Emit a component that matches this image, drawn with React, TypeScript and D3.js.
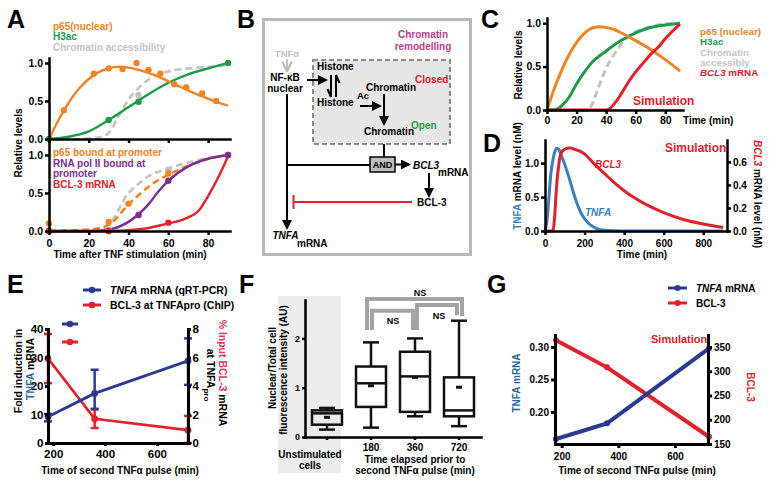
import React, { useRef, useEffect } from 'react';
import * as d3 from 'd3';

const FONT = '"Liberation Sans", Arial, sans-serif';
const C_OR = '#f08424';
const C_GR = '#1e9a4a';
const C_GY = '#c4c4c4';
const C_RD = '#e3202c';
const C_PU = '#7d2f8e';
const C_BL = '#3a7fc1';
const C_NV = '#2c3a92';
const C_TX = '#2b64a0';
const C_PK = '#e23468';

// ---------- Panel A (top): experimental points and fits ----------
const aP65Pts = [[7.5, 0.38], [22.5, 0.86], [30, 0.93], [37, 0.92], [44, 1.0], [50, 0.91], [56, 0.86], [63, 0.72], [69, 0.68], [77, 0.6], [84, 0.5]];
const aP65Fit = [[0, 0], [5, 0.26], [10, 0.48], [15, 0.66], [20, 0.79], [25, 0.88], [30, 0.93], [35, 0.95], [40, 0.94], [45, 0.91], [50, 0.87], [55, 0.82], [60, 0.76], [65, 0.7], [70, 0.64], [75, 0.58], [80, 0.53], [85, 0.48], [90, 0.44]];
const aH3Pts = [[0, 0], [30, 0.25], [45, 0.49], [90, 1.0]];
const aH3Fit = [[0, 0], [10, 0.03], [20, 0.1], [30, 0.25], [40, 0.42], [50, 0.59], [60, 0.74], [70, 0.85], [80, 0.93], [90, 1.0]];
const aChrPts = [[45, 0.58]];
const aChrFit = [[12, 0], [25, 0.02], [30, 0.08], [35, 0.3], [40, 0.52], [45, 0.67], [50, 0.78], [55, 0.85], [60, 0.89], [70, 0.93], [80, 0.95], [90, 0.97]];

// ---------- Panel A (bottom) ----------
const bP65Pts = [[0, 0.1], [30, 0.12], [40, 0.36], [60, 0.76], [90, 1.0]];
const bP65Fit = [[0, 0], [20, 0.02], [30, 0.08], [40, 0.35], [45, 0.47], [50, 0.58], [60, 0.74], [70, 0.86], [80, 0.95], [90, 1.0]];
const bChrPts = [[30, 0.02], [60, 0.81], [90, 1.0]];
const bChrFit = [[0, 0], [25, 0.02], [30, 0.08], [40, 0.5], [45, 0.62], [50, 0.72], [60, 0.82], [70, 0.9], [80, 0.96], [90, 1.0]];
const bPolPts = [[0, 0], [30, 0], [45, 0.21], [60, 0.66], [90, 1.0]];
const bPolFit = [[0, 0], [20, 0], [30, 0.02], [40, 0.12], [45, 0.22], [50, 0.35], [55, 0.52], [60, 0.66], [70, 0.85], [80, 0.95], [90, 1.0]];
const bBclPts = [[0, 0], [30, 0], [60, 0.11]];
const bBclFit = [[0, 0], [30, 0], [40, 0.01], [50, 0.04], [60, 0.1], [65, 0.13], [70, 0.18], [75, 0.26], [80, 0.46], [85, 0.7], [90, 0.98]];

// ---------- Panel C (simulation) ----------
const cP65 = [[0, 0], [5, 0.25], [10, 0.46], [15, 0.64], [20, 0.78], [25, 0.88], [30, 0.94], [35, 0.96], [40, 0.95], [45, 0.93], [50, 0.89], [60, 0.8], [70, 0.7], [80, 0.58], [90, 0.45]];
const cH3 = [[0, 0], [5, 0.0], [10, 0.05], [15, 0.15], [20, 0.3], [25, 0.43], [30, 0.54], [40, 0.68], [50, 0.8], [60, 0.89], [70, 0.95], [80, 0.98], [90, 1.0]];
const cChr = [[0, 0], [27, 0], [30, 0.05], [35, 0.27], [40, 0.48], [45, 0.63], [50, 0.75], [55, 0.84], [60, 0.9], [70, 0.96], [80, 0.99], [90, 1.0]];
const cBcl = [[0, 0], [40, 0], [42, 0.01], [45, 0.06], [50, 0.18], [55, 0.32], [60, 0.44], [65, 0.54], [70, 0.64], [75, 0.72], [80, 0.82], [85, 0.91], [90, 0.99]];

// ---------- Panel D (simulation) ----------
const dTnfa = [[0, 0], [10, 0.15], [20, 0.5], [30, 0.85], [40, 1.05], [50, 1.17], [60, 1.22], [70, 1.2], [80, 1.13], [100, 0.98], [120, 0.8], [140, 0.6], [160, 0.42], [180, 0.28], [200, 0.18], [250, 0.05], [300, 0.01], [400, 0], [900, 0]];
const dBcl3 = [[0, 0], [40, 0], [45, 0.05], [50, 0.15], [55, 0.3], [60, 0.42], [70, 0.58], [80, 0.67], [100, 0.71], [125, 0.72], [150, 0.71], [200, 0.67], [250, 0.58], [300, 0.5], [350, 0.42], [400, 0.35], [450, 0.29], [500, 0.24], [600, 0.16], [700, 0.1], [800, 0.06], [900, 0.03]];

// ---------- Panel E ----------
const eTimes = [180, 360, 720];
const eTnfa = [9.2, 17.4, 28.8];
const eTnfaLo = [7.6, 12.0, 20.4];
const eTnfaHi = [10.2, 25.7, 36.7];
const eBcl = [5.93, 1.7, 0.9];
const eBclLo = [4.2, 1.05, 0];
const eBclHi = [7.65, 2.35, 1.9];

// ---------- Panel F (box plots) ----------
const fCats = ['Unstim', '180', '360', '720'];
const fMin = [0.15, 0.19, 0.42, 0.22];
const fQ1 = [0.25, 0.61, 0.51, 0.42];
const fMed = [0.48, 1.09, 1.23, 0.54];
const fQ3 = [0.54, 1.43, 1.73, 1.21];
const fMax = [0.59, 1.92, 2.0, 2.36];
const fMean = [0.4, 1.04, 1.21, 1.01];

// ---------- Panel G ----------
const gTimes = [180, 360, 720];
const gTnfa = [0.1585, 0.1826, 0.298];
const gBcl = [364, 308, 165];

function Axis({ scale, orient, ticks, fmt, x = 0, y = 0, size = 4, pad = 2, fs = 10.5, sw = 2.5 }: any) {
  const ref = useRef<SVGGElement>(null);
  useEffect(() => {
    const mk = orient === 'left' ? d3.axisLeft : orient === 'right' ? d3.axisRight : orient === 'bottom' ? d3.axisBottom : d3.axisTop;
    const ax: any = (mk as any)(scale).tickValues(ticks).tickSizeInner(size).tickSizeOuter(0).tickPadding(pad);
    if (fmt) ax.tickFormat(fmt);
    const g = d3.select(ref.current as SVGGElement);
    g.call(ax);
    g.attr('font-family', FONT).attr('font-size', fs).attr('font-weight', 'bold');
    g.select('.domain').attr('stroke', '#000').attr('stroke-width', sw).attr('stroke-linecap', 'square');
    g.selectAll('.tick line').attr('stroke', '#000').attr('stroke-width', sw);
    g.selectAll('.tick text').attr('fill', '#000');
  });
  return <g ref={ref} transform={`translate(${x},${y})`} />;
}

const T = (p: any) => <text fontFamily={FONT} fontWeight="bold" fontSize={10} {...p} />;

function mkLine(xs: any, ys: any) {
  return d3.line<number[]>().x(d => xs(d[0])).y(d => ys(d[1])).curve(d3.curveMonotoneX);
}
function mkStraight(xs: any, ys: any) {
  return d3.line<number[]>().x(d => xs(d[0])).y(d => ys(d[1]));
}

export default function App() {
  // ---- A scales
  const xA = d3.scaleLinear().domain([0, 91]).range([49, 230]);
  const yAt = d3.scaleLinear().domain([0, 1.066]).range([139, 58]);
  const yAb = d3.scaleLinear().domain([0, 1.21]).range([231, 139]);
  const lAt = mkLine(xA, yAt);
  const lAb = mkLine(xA, yAb);
  // ---- C
  const xC = d3.scaleLinear().domain([0, 92]).range([547, 683]);
  const yC = d3.scaleLinear().domain([0, 1.06]).range([110, 18]);
  const lC = mkLine(xC, yC);
  // ---- D
  const xD = d3.scaleLinear().domain([0, 920]).range([545, 727]);
  const yDL = d3.scaleLinear().domain([0, 1.34]).range([231, 140]);
  const yDR = d3.scaleLinear().domain([0, 0.79]).range([231, 140]);
  // ---- E
  const xE = d3.scaleLinear().domain([180, 720]).range([48, 188]);
  const yEL = d3.scaleLinear().domain([0, 40]).range([443, 329]);
  const yER = d3.scaleLinear().domain([0, 8]).range([443, 329]);
  // ---- F
  const xF = d3.scaleBand().domain(fCats).range([305, 481]);
  const yF = d3.scaleLinear().domain([0, 2.78]).range([437, 300]);
  const fc = (c: string) => (xF(c) as number) + xF.bandwidth() / 2;
  // ---- G
  const xG = d3.scaleLinear().domain([180, 720]).range([556, 709]);
  const yGL = d3.scaleLinear().domain([0.1508, 0.3185]).range([444, 335]);
  const yGR = d3.scaleLinear().domain([150, 374.7]).range([444, 335]);

  const f1 = d3.format('.1f');
  const f2 = d3.format('.2f');

  const eTn = eTimes.map((t, i) => [t, eTnfa[i]]);
  const eBc = eTimes.map((t, i) => [t, eBcl[i]]);
  const gTn = gTimes.map((t, i) => [t, gTnfa[i]]);
  const gBc = gTimes.map((t, i) => [t, gBcl[i]]);

  const dots = (pts: number[][], xs: any, ys: any, col: string, r = 3.2) =>
    pts.map((p, i) => <circle key={i} cx={xs(p[0])} cy={ys(p[1])} r={r} fill={col} />);

  return (
    <svg width={769} height={483} style={{ position: 'absolute', left: 0, top: 0, background: '#fff' }} fontFamily={FONT}>
      <defs>
        <marker id="ah" viewBox="0 0 10 10" refX="8" refY="5" markerWidth="5" markerHeight="5" orient="auto" markerUnits="strokeWidth">
          <path d="M0,0L10,5L0,10z" fill="#000" />
        </marker>
        <marker id="ahg" viewBox="0 0 10 10" refX="8" refY="5" markerWidth="6" markerHeight="6" orient="auto" markerUnits="strokeWidth">
          <path d="M1,1L9,5L1,9" fill="none" stroke="#c0c0c0" strokeWidth="2" />
        </marker>
      </defs>
      <rect x={0} y={0} width={769} height={483} fill="#fff" />

      {/* ================= Panel A ================= */}
      <T x={7} y={28} fontSize={25}>A</T>
      <T x={53} y={29.5} fill={C_OR}>p65(nuclear)</T>
      <T x={53} y={39.5} fill={C_GR}>H3ac</T>
      <T x={53} y={51} fill={C_GY}>Chromatin accessibility</T>
      <path d={lAt(aChrFit) as string} fill="none" stroke={C_GY} strokeWidth={2.6} strokeDasharray="7,4" />
      <path d={lAt(aH3Fit) as string} fill="none" stroke={C_GR} strokeWidth={2.4} />
      <path d={lAt(aP65Fit) as string} fill="none" stroke={C_OR} strokeWidth={2.4} />
      {dots(aChrPts, xA, yAt, C_GY)}
      {dots(aH3Pts, xA, yAt, C_GR)}
      {dots(aP65Pts, xA, yAt, C_OR)}
      <Axis scale={yAt} orient="left" ticks={[0, 0.5, 1]} fmt={f1} x={49} />
      <Axis scale={xA} orient="bottom" ticks={[0, 20, 40, 60, 80]} fmt={() => ''} y={139} size={4} />

      <T x={53} y={155.5} fill={C_OR}>p65 bound at promoter</T>
      <T x={53} y={166.5} fill={C_PU}>RNA pol II bound at</T>
      <T x={53} y={177} fill={C_PU}>promoter</T>
      <T x={53} y={187.5} fill={C_RD}>BCL-3 mRNA</T>
      <path d={lAb(bChrFit) as string} fill="none" stroke={C_GY} strokeWidth={2.6} strokeDasharray="7,4" />
      <path d={lAb(bP65Fit) as string} fill="none" stroke={C_OR} strokeWidth={2.6} strokeDasharray="7,4" />
      <path d={lAb(bPolFit) as string} fill="none" stroke={C_PU} strokeWidth={2.4} />
      <path d={lAb(bBclFit) as string} fill="none" stroke={C_RD} strokeWidth={2.4} />
      {dots(bChrPts, xA, yAb, C_GY)}
      {dots(bP65Pts, xA, yAb, C_OR)}
      {dots(bPolPts, xA, yAb, C_PU)}
      {dots(bBclPts, xA, yAb, C_RD)}
      <Axis scale={yAb} orient="left" ticks={[0, 0.5, 1]} fmt={f1} x={49} />
      <Axis scale={xA} orient="bottom" ticks={[0, 20, 40, 60, 80]} fmt={d3.format('d')} y={231} pad={4.5} />
      <T x={130} y={258} textAnchor="middle">Time after TNF stimulation (min)</T>
      <T transform="translate(22,143) rotate(-90)" textAnchor="middle">Relative levels</T>

      {/* ================= Panel B ================= */}
      <T x={237} y={28} fontSize={25}>B</T>
      <rect x={263.5} y={19.5} width={207} height={235} fill="none" stroke="#b8b8b8" strokeWidth={3} />
      <T x={423} y={38} textAnchor="middle" fill="#b5418f">Chromatin</T>
      <T x={423} y={49.5} textAnchor="middle" fill="#b5418f">remodelling</T>
      <rect x={313} y={60} width={137} height={84} fill="#e6e6e6" stroke="#8a8a8a" strokeWidth={2} strokeDasharray="5,3" />
      <T x={287} y={57} textAnchor="middle" fill="#c0c0c0" fontSize={9.5}>TNFα</T>
      <line x1={287} y1={59} x2={287} y2={70} stroke="#c0c0c0" strokeWidth={2} markerEnd="url(#ahg)" />
      <T x={285} y={81} textAnchor="middle">NF-κB</T>
      <T x={285} y={92} textAnchor="middle">nuclear</T>
      <line x1={307} y1={80} x2={326} y2={80} stroke="#000" strokeWidth={2} markerEnd="url(#ah)" />
      <T x={317} y={69.5}>Histone</T>
      <T x={317} y={105.5}>Histone</T>
      <T x={357} y={99} fontSize={9.5}>Ac</T>
      <line x1={331} y1={75} x2={331} y2={97} stroke="#000" strokeWidth={2} />
      <line x1={331} y1={97} x2={327.5} y2={89} stroke="#000" strokeWidth={2} />
      <line x1={336} y1={75} x2={336} y2={97} stroke="#000" strokeWidth={2} />
      <line x1={336} y1={75} x2={339.5} y2={83} stroke="#000" strokeWidth={2} />
      <T x={391} y={91} textAnchor="middle">Chromatin</T>
      <T x={415} y={83} fill={C_RD}>Closed</T>
      <line x1={360} y1={106} x2={380} y2={106} stroke="#000" strokeWidth={2} markerEnd="url(#ah)" />
      <line x1={384} y1={94} x2={384} y2={124} stroke="#000" strokeWidth={2} markerEnd="url(#ah)" />
      <T x={389} y={134.5} textAnchor="middle">Chromatin</T>
      <T x={411} y={128.5} fill={C_GR}>Open</T>
      <line x1={384} y1={144} x2={384} y2={157} stroke="#000" strokeWidth={2} />
      <line x1={287} y1={94} x2={287} y2={228} stroke="#000" strokeWidth={2} markerEnd="url(#ah)" />
      <line x1={287} y1={165} x2={370} y2={165} stroke="#000" strokeWidth={2} />
      <rect x={370} y={157} width={25} height={15} fill="#bdbdbd" stroke="#000" strokeWidth={1.5} />
      <T x={382.5} y={168} textAnchor="middle" fontSize={9}>AND</T>
      <line x1={395} y1={164.5} x2={409} y2={164.5} stroke="#000" strokeWidth={2} markerEnd="url(#ah)" />
      <T x={413} y={169} fontStyle="italic">BCL3</T>
      <T x={438} y={176}>mRNA</T>
      <line x1={429} y1={173} x2={429} y2={196} stroke="#000" strokeWidth={2} markerEnd="url(#ah)" />
      <T x={417} y={206}>BCL-3</T>
      <line x1={412} y1={202} x2={293.5} y2={202} stroke={C_RD} strokeWidth={2} />
      <line x1={293.5} y1={195} x2={293.5} y2={209} stroke={C_RD} strokeWidth={2} />
      <T x={285.5} y={239} textAnchor="middle" fontStyle="italic">TNFA</T>
      <T x={297} y={247}>mRNA</T>

      {/* ================= Panel C ================= */}
      <T x={481} y={28} fontSize={25}>C</T>
      <path d={lC(cChr) as string} fill="none" stroke={C_GY} strokeWidth={3} strokeDasharray="7,4" />
      <path d={lC(cH3) as string} fill="none" stroke={C_GR} strokeWidth={3} />
      <path d={lC(cP65) as string} fill="none" stroke={C_OR} strokeWidth={3} />
      <path d={lC(cBcl) as string} fill="none" stroke={C_RD} strokeWidth={3} />
      <Axis scale={yC} orient="left" ticks={[0, 0.5, 1]} fmt={f1} x={547} />
      <Axis scale={xC} orient="bottom" ticks={[0, 20, 40, 60, 80]} fmt={d3.format('d')} y={110} pad={2.5} />
      <T x={683} y={124}>Time (min)</T>
      <T transform="translate(521.5,65) rotate(-90)" textAnchor="middle">Relative levels</T>
      <T x={700} y={35} fill={C_OR} fontSize={9.8}>p65 (nuclear)</T>
      <T x={700} y={45.3} fill={C_GR} fontSize={9.8}>H3ac</T>
      <T x={700} y={55.6} fill={C_GY} fontSize={9.8}>Chromatin</T>
      <T x={700} y={65.9} fill={C_GY} fontSize={9.8}>accessibly</T>
      <T x={700} y={76.2} fill={C_RD} fontSize={9.8}><tspan fontStyle="italic">BCL3</tspan> mRNA</T>
      <T x={633} y={105} fill={C_RD} fontSize={12}>Simulation</T>

      {/* ================= Panel D ================= */}
      <T x={483} y={152} fontSize={25}>D</T>
      <path d={mkLine(xD, yDL)(dTnfa) as string} fill="none" stroke={C_BL} strokeWidth={3} />
      <path d={mkLine(xD, yDR)(dBcl3) as string} fill="none" stroke={C_RD} strokeWidth={3} />
      <Axis scale={yDL} orient="left" ticks={[0, 0.5, 1]} fmt={f1} x={545} fs={10} />
      <Axis scale={yDR} orient="right" ticks={[0, 0.2, 0.4, 0.6]} fmt={f1} x={727} fs={10} />
      <Axis scale={xD} orient="bottom" ticks={[0, 200, 400, 600, 800]} fmt={d3.format('d')} y={231} pad={4.5} fs={10} />
      <T x={642} y={258} textAnchor="middle">Time (min)</T>
      <T x={665} y={152} fill={C_RD} fontSize={12}>Simulation</T>
      <T x={595} y={168} fill={C_RD} fontStyle="italic">BCL3</T>
      <T x={585} y={216} fill={C_BL} fontStyle="italic">TNFA</T>
      <T transform="translate(520.5,176) rotate(-90)" textAnchor="middle"><tspan fill={C_BL}>TNFA</tspan> mRNA level (nM)</T>
      <T transform="translate(753.5,194) rotate(90)" textAnchor="middle"><tspan fill={C_RD} fontStyle="italic">BCL3</tspan> mRNA level (nM)</T>

      {/* ================= Panel E ================= */}
      <T x={7} y={293} fontSize={25}>E</T>
      <line x1={83} y1={290} x2={101} y2={290} stroke={C_NV} strokeWidth={3} />
      <circle cx={92} cy={290} r={3.2} fill={C_NV} />
      <T x={110} y={294} fontSize={10.5}><tspan fontStyle="italic">TNFA</tspan> mRNA (qRT-PCR)</T>
      <line x1={83} y1={305} x2={101} y2={305} stroke={C_RD} strokeWidth={3} />
      <circle cx={92} cy={305} r={3.2} fill={C_RD} />
      <T x={110} y={309} fontSize={10.5}>BCL-3 at TNFApro (ChIP)</T>
      <line x1={62} y1={324} x2={78} y2={324} stroke={C_NV} strokeWidth={3} />
      <circle cx={70} cy={324} r={3.2} fill={C_NV} />
      <line x1={62} y1={342} x2={78} y2={342} stroke={C_RD} strokeWidth={3} />
      <circle cx={70} cy={342} r={3.2} fill={C_RD} />
      {eTimes.map((t, i) => (
        <g key={'eb' + i} stroke={C_RD} strokeWidth={2.5}>
          <line x1={xE(t)} x2={xE(t)} y1={yER(eBclLo[i])} y2={yER(eBclHi[i])} />
          <line x1={xE(t) - 4} x2={xE(t) + 4} y1={yER(eBclLo[i])} y2={yER(eBclLo[i])} />
          <line x1={xE(t) - 4} x2={xE(t) + 4} y1={yER(eBclHi[i])} y2={yER(eBclHi[i])} />
        </g>
      ))}
      {eTimes.map((t, i) => (
        <g key={'et' + i} stroke={C_NV} strokeWidth={2.5}>
          <line x1={xE(t)} x2={xE(t)} y1={yEL(eTnfaLo[i])} y2={yEL(eTnfaHi[i])} />
          <line x1={xE(t) - 4} x2={xE(t) + 4} y1={yEL(eTnfaLo[i])} y2={yEL(eTnfaLo[i])} />
          <line x1={xE(t) - 4} x2={xE(t) + 4} y1={yEL(eTnfaHi[i])} y2={yEL(eTnfaHi[i])} />
        </g>
      ))}
      <path d={mkStraight(xE, yER)(eBc) as string} fill="none" stroke={C_RD} strokeWidth={2.8} />
      <path d={mkStraight(xE, yEL)(eTn) as string} fill="none" stroke={C_NV} strokeWidth={2.8} />
      {dots(eBc, xE, yER, C_RD, 3.4)}
      {dots(eTn, xE, yEL, C_NV, 3.4)}
      <Axis scale={yEL} orient="left" ticks={[0, 10, 20, 30, 40]} fmt={d3.format('d')} x={48} size={3} pad={1.5} fs={11.5} sw={3} />
      <Axis scale={yER} orient="right" ticks={[0, 2, 4, 6, 8]} fmt={d3.format('d')} x={188} size={3} pad={1.5} fs={11.5} sw={3} />
      <Axis scale={xE} orient="bottom" ticks={[200, 400, 600]} fmt={d3.format('d')} y={443} size={3} pad={4} fs={11.5} sw={3} />
      <T x={120} y={474} textAnchor="middle">Time of second TNFα pulse (min)</T>
      <T transform="translate(22,371) rotate(-90)" textAnchor="middle" fontSize={10.5}>Fold induction in</T>
      <T transform="translate(33.5,369) rotate(-90)" textAnchor="middle" fontSize={10.5}><tspan fill={C_TX}>TNFA</tspan> mRNA</T>
      <T transform="translate(218.5,373) rotate(90)" textAnchor="middle" fontSize={10.5}><tspan fill={C_PK}>% Input BCL-3</tspan> mRNA</T>
      <T transform="translate(206.5,375) rotate(90)" textAnchor="middle" fontSize={10.5}>at TNFA<tspan fontSize={8} dy={3}>pro</tspan></T>

      {/* ================= Panel F ================= */}
      <T x={239} y={293} fontSize={25}>F</T>
      <rect x={278} y={296} width={63} height={177} fill="#ececec" />
      {fCats.map((c, i) => {
        const cx = fc(c);
        return (
          <g key={'bx' + i} stroke="#111" strokeWidth={2.5} fill="none">
            <line x1={cx} x2={cx} y1={yF(fMin[i])} y2={yF(fQ1[i])} />
            <line x1={cx} x2={cx} y1={yF(fQ3[i])} y2={yF(fMax[i])} />
            <line x1={cx - 8} x2={cx + 8} y1={yF(fMin[i])} y2={yF(fMin[i])} />
            <line x1={cx - 8} x2={cx + 8} y1={yF(fMax[i])} y2={yF(fMax[i])} />
            <rect x={cx - 15} y={yF(fQ3[i])} width={30} height={yF(fQ1[i]) - yF(fQ3[i])} fill={i === 0 ? '#ececec' : '#fff'} />
            <line x1={cx - 15} x2={cx + 15} y1={yF(fMed[i])} y2={yF(fMed[i])} />
            <rect x={cx - 3} y={yF(fMean[i]) - 1.5} width={6} height={3} fill="#111" stroke="none" />
          </g>
        );
      })}
      <Axis scale={yF} orient="left" ticks={[0, 1, 2]} fmt={d3.format('d')} x={305} size={3} pad={2} fs={9} />
      <Axis scale={xF} orient="bottom" ticks={fCats} fmt={(d: string) => (d === 'Unstim' ? '' : d)} y={437} size={3} pad={4} fs={10} />
      <g stroke="#a3a3a3" strokeWidth={4} fill="none">
        <polyline points={`${fc('180') - 4},${yF(2.17)} ${fc('180') - 4},${yF(2.8)} ${fc('720') + 3},${yF(2.8)} ${fc('720') + 3},${yF(2.45)}`} />
        <polyline points={`${fc('180') + 1},${yF(2.17)} ${fc('180') + 1},${yF(2.56)} ${fc('360') - 2},${yF(2.56)} ${fc('360') - 2},${yF(2.17)}`} />
        <polyline points={`${fc('360') + 2},${yF(2.17)} ${fc('360') + 2},${yF(2.68)} ${fc('720') - 2},${yF(2.68)} ${fc('720') - 2},${yF(2.47)}`} />
      </g>
      <T x={420} y={295.5} textAnchor="middle" fontSize={9}>NS</T>
      <T x={393} y={323.5} textAnchor="middle" fontSize={9}>NS</T>
      <T x={439} y={318.5} textAnchor="middle" fontSize={9}>NS</T>
      <T x={310} y={458} textAnchor="middle">Unstimulated</T>
      <T x={310} y={469} textAnchor="middle">cells</T>
      <T x={415} y={463} textAnchor="middle">Time elapsed prior to</T>
      <T x={415} y={474} textAnchor="middle">second TNFα pulse (min)</T>
      <T transform="translate(275.5,368) rotate(-90)" textAnchor="middle">Nuclear/Total cell</T>
      <T transform="translate(286.5,370) rotate(-90)" textAnchor="middle">fluorescence intensity (AU)</T>

      {/* ================= Panel G ================= */}
      <T x={487} y={293} fontSize={25}>G</T>
      <line x1={668} y1={288} x2={687} y2={288} stroke={C_NV} strokeWidth={3} />
      <circle cx={677.5} cy={288} r={3} fill={C_NV} />
      <T x={696} y={292}><tspan fontStyle="italic">TNFA</tspan> mRNA</T>
      <line x1={668} y1={303} x2={687} y2={303} stroke={C_RD} strokeWidth={3} />
      <circle cx={677.5} cy={303} r={3} fill={C_RD} />
      <T x={696} y={307}>BCL-3</T>
      <path d={mkStraight(xG, yGR)(gBc) as string} fill="none" stroke={C_RD} strokeWidth={4} />
      <path d={mkStraight(xG, yGL)(gTn) as string} fill="none" stroke={C_NV} strokeWidth={4} />
      {dots(gBc, xG, yGR, C_RD, 3)}
      {dots(gTn, xG, yGL, C_NV, 3)}
      <Axis scale={yGL} orient="left" ticks={[0.2, 0.25, 0.3]} fmt={f2} x={555} fs={10} sw={3} />
      <Axis scale={yGR} orient="right" ticks={[150, 200, 250, 300, 350]} fmt={d3.format('d')} x={708} fs={10} sw={3} />
      <Axis scale={xG} orient="bottom" ticks={[200, 400, 600]} fmt={d3.format('d')} y={444} pad={5} fs={10} sw={3} />
      <T x={637} y={474} textAnchor="middle">Time of second TNFα pulse (min)</T>
      <T x={651} y={343} fill={C_RD} fontSize={11}>Simulation</T>
      <T transform="translate(519.5,383) rotate(-90)" textAnchor="middle" fill={C_TX}>TNFA mRNA</T>
      <T transform="translate(746.5,387) rotate(90)" textAnchor="middle" fill={C_RD}>BCL-3</T>
    </svg>
  );
}
